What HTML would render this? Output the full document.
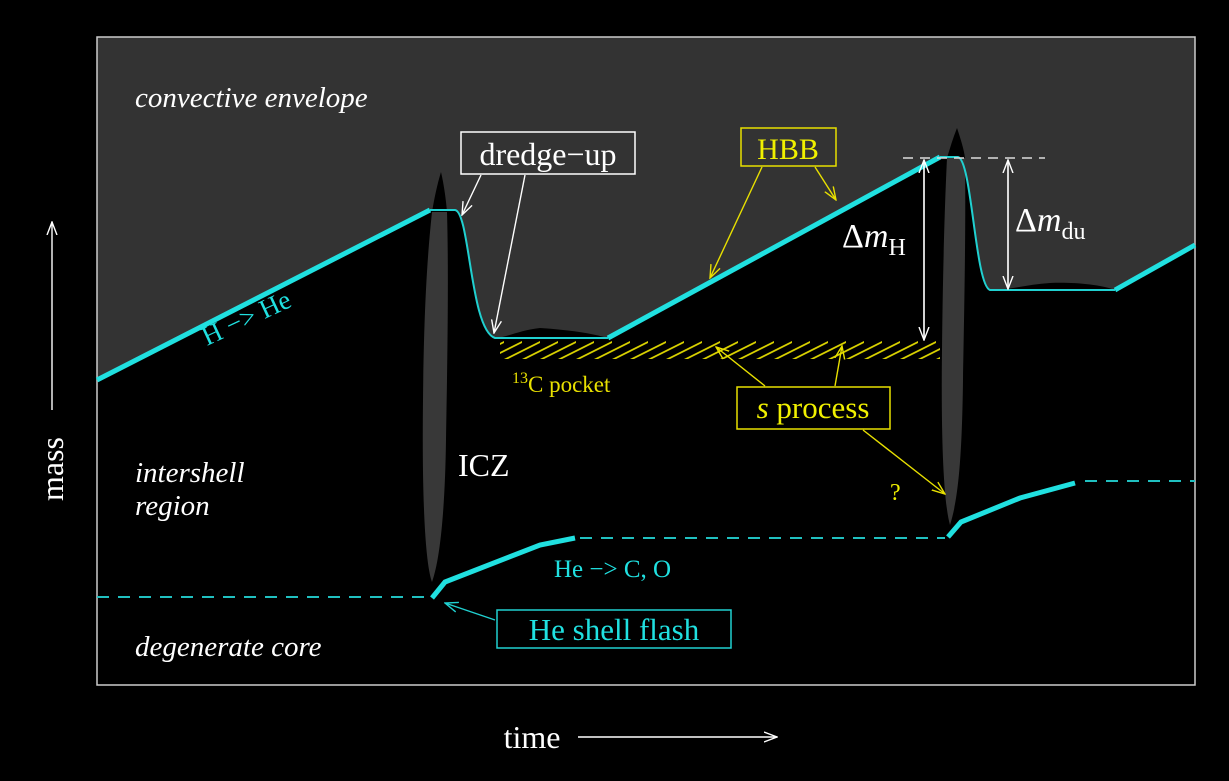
<!DOCTYPE html>
<html><head><meta charset="utf-8"><style>
html,body{margin:0;padding:0;background:#000;}
svg{display:block;}
text{font-family:"Liberation Serif",serif;}
</style></head><body>
<svg width="1229" height="781" viewBox="0 0 1229 781" xmlns="http://www.w3.org/2000/svg">
<defs>
<pattern id="hatch" width="18" height="20" patternUnits="userSpaceOnUse">
<line x1="0" y1="20" x2="40" y2="0" stroke="#d8d000" stroke-width="1.8"/>
<line x1="-18" y1="20" x2="22" y2="0" stroke="#d8d000" stroke-width="1.8"/>
</pattern>
<marker id="aw" markerWidth="14" markerHeight="12" refX="13" refY="6" orient="auto" markerUnits="userSpaceOnUse"><path d="M0,1 L13,6 L0,11" fill="none" stroke="#fff" stroke-width="1.4"/></marker>
<marker id="ay" markerWidth="14" markerHeight="12" refX="13" refY="6" orient="auto" markerUnits="userSpaceOnUse"><path d="M0,1 L13,6 L0,11" fill="none" stroke="#e8e000" stroke-width="1.4"/></marker>
<marker id="ac" markerWidth="14" markerHeight="12" refX="13" refY="6" orient="auto" markerUnits="userSpaceOnUse"><path d="M0,1 L13,6 L0,11" fill="none" stroke="#20d0d0" stroke-width="1.4"/></marker>
</defs>
<rect x="0" y="0" width="1229" height="781" fill="#000"/>
<!-- gray envelope -->
<path d="M97,37 H1195 V245 L1115,290 C1100,284 1070,282 1050,283 C1030,284 1010,290 990,290 C975,285 972,160 958,157 L940,157 L608,338 C590,333 570,330 540,328 C520,330 505,338 495,338 C470,330 470,210 455,210 L430,210 L97,380 Z" fill="#333"/>
<rect x="97" y="37" width="1098" height="648" fill="none" stroke="#ccc" stroke-width="1.5"/>
<!-- ICZ spikes: black tips above line -->
<path d="M441,172 C444,185 446,200 447,212 L432,212 C434,200 437,185 441,172 Z" fill="#000"/>
<path d="M957,128 C961,140 964,150 965,158 L947,158 C950,148 953,138 957,128 Z" fill="#000"/>
<!-- gray lower parts -->
<path d="M432,212 L447,212 C449,280 447,380 446,440 C445,510 440,560 432,582 C424,560 422,480 423,400 C424,300 428,250 432,212 Z" fill="#383838"/>
<path d="M947,158 L965,158 C966,230 964,320 963,380 C962,460 958,500 950,525 C943,500 941,430 942,350 C943,260 945,200 947,158 Z" fill="#383838"/>
<!-- hatch pocket -->
<rect x="500" y="340" width="440" height="19" fill="url(#hatch)"/>
<!-- H shell line -->
<line x1="97" y1="380" x2="430" y2="210" stroke="#20e0e0" stroke-width="5"/>
<path d="M430,210 L455,210 C470,212 470,330 495,338 L608,338" fill="none" stroke="#20d0d0" stroke-width="2"/>
<line x1="608" y1="338" x2="940" y2="157" stroke="#20e0e0" stroke-width="5"/>
<path d="M940,157 L958,157 C972,160 975,285 990,290 L1115,290" fill="none" stroke="#20d0d0" stroke-width="2"/>
<line x1="1115" y1="290" x2="1195" y2="245" stroke="#20e0e0" stroke-width="5"/>
<!-- He shell -->
<line x1="97" y1="597" x2="430" y2="597" stroke="#20c0c0" stroke-width="2" stroke-dasharray="12,9"/>
<path d="M432,598 L445,582 L540,545 L575,538" fill="none" stroke="#20e0e0" stroke-width="5"/>
<line x1="580" y1="538" x2="945" y2="538" stroke="#20c0c0" stroke-width="2" stroke-dasharray="12,9"/>
<path d="M948,537 L961,522 L1020,498 L1075,483" fill="none" stroke="#20e0e0" stroke-width="5"/>
<line x1="1085" y1="481" x2="1195" y2="481" stroke="#20c0c0" stroke-width="2" stroke-dasharray="12,9"/>
<!-- Delta m lines -->
<line x1="903" y1="158" x2="1045" y2="158" stroke="#ddd" stroke-width="1.5" stroke-dasharray="10,7"/>
<line x1="924" y1="162" x2="924" y2="340" stroke="#fff" stroke-width="1.4" marker-end="url(#aw)"/>
<line x1="924" y1="336" x2="924" y2="160" stroke="#fff" stroke-width="1.4" marker-end="url(#aw)"/>
<line x1="1008" y1="162" x2="1008" y2="289" stroke="#fff" stroke-width="1.4" marker-end="url(#aw)"/>
<line x1="1008" y1="285" x2="1008" y2="160" stroke="#fff" stroke-width="1.4" marker-end="url(#aw)"/>
<!-- dredge-up -->
<rect x="461" y="132" width="174" height="42" fill="#333" stroke="#fff" stroke-width="1.5"/>
<text x="548" y="165" font-size="32" fill="#fff" text-anchor="middle">dredge−up</text>
<line x1="481" y1="175" x2="462" y2="215" stroke="#fff" stroke-width="1.4" marker-end="url(#aw)"/>
<line x1="525" y1="175" x2="494" y2="333" stroke="#fff" stroke-width="1.4" marker-end="url(#aw)"/>
<!-- HBB -->
<rect x="741" y="128" width="95" height="38" fill="#333" stroke="#e8e000" stroke-width="1.5"/>
<text x="788" y="159" font-size="30" fill="#f0f000" text-anchor="middle">HBB</text>
<line x1="762" y1="167" x2="710" y2="278" stroke="#e8e000" stroke-width="1.4" marker-end="url(#ay)"/>
<line x1="815" y1="167" x2="836" y2="200" stroke="#e8e000" stroke-width="1.4" marker-end="url(#ay)"/>
<!-- s process -->
<rect x="737" y="387" width="153" height="42" fill="#000" stroke="#e8e000" stroke-width="1.5"/>
<text x="813" y="418" font-size="31" fill="#f0f000" text-anchor="middle"><tspan font-style="italic">s</tspan> process</text>
<line x1="765" y1="386" x2="716" y2="347" stroke="#e8e000" stroke-width="1.4" marker-end="url(#ay)"/>
<line x1="835" y1="386" x2="842" y2="346" stroke="#e8e000" stroke-width="1.4" marker-end="url(#ay)"/>
<line x1="863" y1="430" x2="945" y2="494" stroke="#e8e000" stroke-width="1.4" marker-end="url(#ay)"/>
<text x="890" y="500" font-size="24" fill="#f0f000">?</text>
<!-- He shell flash -->
<rect x="497" y="610" width="234" height="38" fill="#000" stroke="#20d0d0" stroke-width="1.5"/>
<text x="614" y="640" font-size="31" fill="#20e0e0" text-anchor="middle">He shell flash</text>
<line x1="495" y1="620" x2="445" y2="603" stroke="#20d0d0" stroke-width="1.4" marker-end="url(#ac)"/>
<!-- labels -->
<text x="135" y="107" font-size="29" font-style="italic" fill="#fff">convective envelope</text>
<text x="135" y="482" font-size="29" font-style="italic" fill="#fff">intershell</text>
<text x="135" y="515" font-size="29" font-style="italic" fill="#fff">region</text>
<text x="135" y="656" font-size="29" font-style="italic" fill="#fff">degenerate core</text>
<text x="458" y="476" font-size="32" fill="#fff">ICZ</text>
<text x="0" y="0" font-size="27" fill="#20e0e0" transform="translate(207,346) rotate(-25)">H −&gt; He</text>
<text x="554" y="577" font-size="25" fill="#20e0e0">He −&gt; C, O</text>
<text x="512" y="392" font-size="23" fill="#e8e000"><tspan font-size="16" dy="-9">13</tspan><tspan dy="9">C pocket</tspan></text>
<text x="842" y="247" font-size="34" fill="#fff">Δ<tspan font-style="italic">m</tspan><tspan font-size="24" dy="8">H</tspan></text>
<text x="1015" y="231" font-size="34" fill="#fff">Δ<tspan font-style="italic">m</tspan><tspan font-size="24" dy="8">du</tspan></text>
<!-- axes -->
<text x="0" y="0" font-size="32" fill="#fff" text-anchor="middle" transform="translate(63,469) rotate(-90)">mass</text>
<line x1="52" y1="410" x2="52" y2="222" stroke="#fff" stroke-width="1.4" marker-end="url(#aw)"/>
<text x="532" y="748" font-size="32" fill="#fff" text-anchor="middle">time</text>
<line x1="578" y1="737" x2="777" y2="737" stroke="#fff" stroke-width="1.4" marker-end="url(#aw)"/>
</svg>
</body></html>
